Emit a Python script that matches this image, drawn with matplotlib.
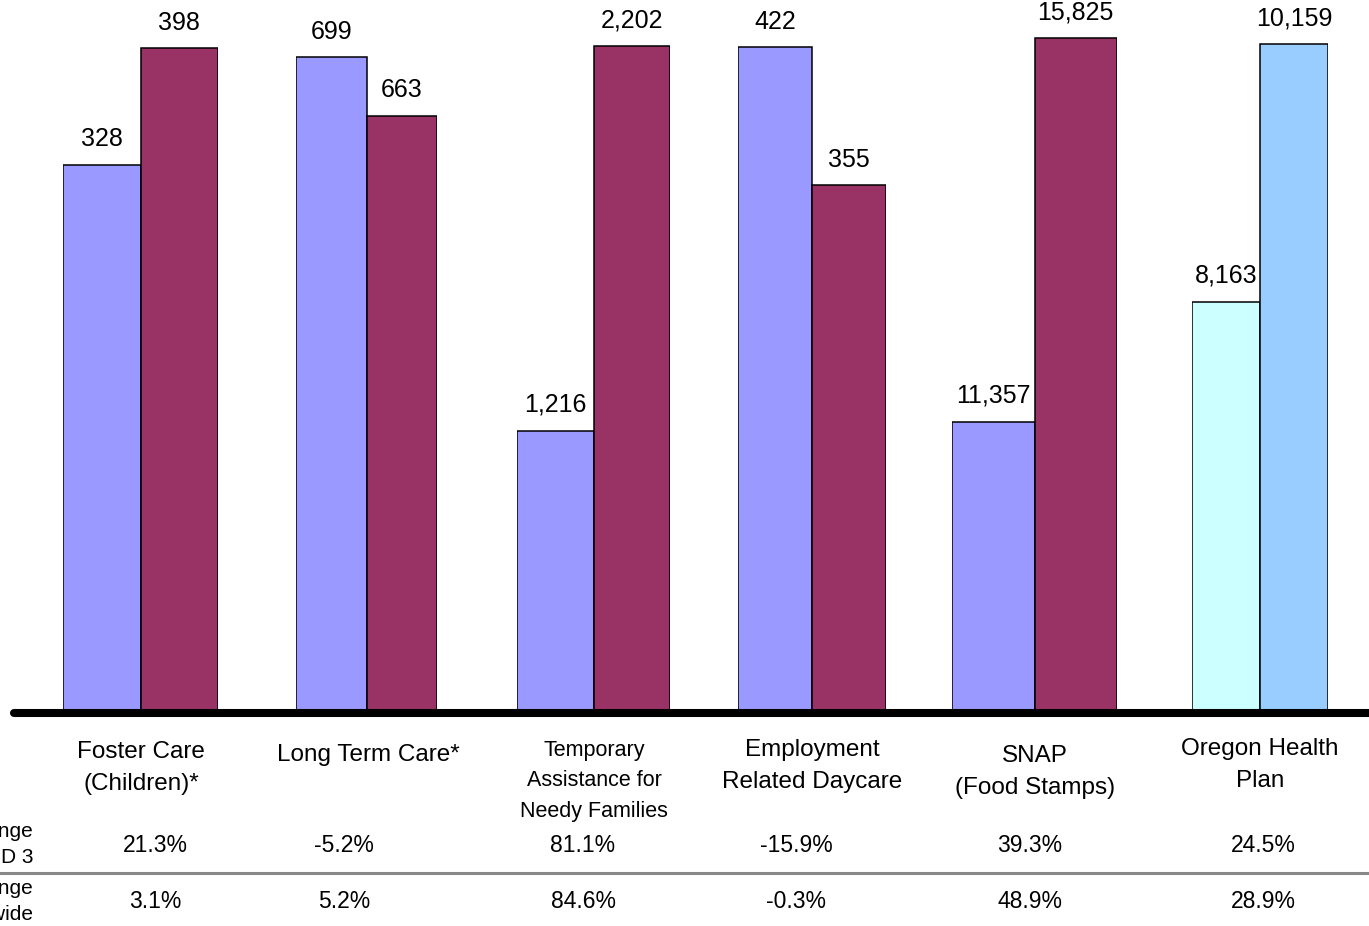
import matplotlib.pyplot as plt
from matplotlib.lines import Line2D

# data
programs = ["Foster Care\n(Children)*", "Long Term Care*",
            "Temporary\nAssistance for\nNeedy Families",
            "Employment\nRelated Daycare", "SNAP\n(Food Stamps)",
            "Oregon Health\nPlan"]
earlier = [328, 699, 1216, 422, 11357, 8163]
later = [398, 663, 2202, 355, 15825, 10159]
change_area = ["21.3%", "-5.2%", "81.1%", "-15.9%", "39.3%", "24.5%"]
change_state = ["3.1%", "5.2%", "84.6%", "-0.3%", "48.9%", "28.9%"]
row_labels = ["% Change\nCD 3", "% Change\nStatewide"]

# each program was its own little chart with its own value axis
y_min = [0, 300, 500, 100, 8000, 5000]
y_max = [427, 734, 2320, 445, 16267, 10500]
colors = [("#9999FF", "#993366")] * 5 + [("#CCFFFF", "#99CCFF")]

W, H = 1369, 926
fig = plt.figure(figsize=(W / 100, H / 100), dpi=100)
plt.rcParams["font.family"] = ["Liberation Sans", "DejaVu Sans"]

# pixel layout of the groups (left edge, right edge)
edges = [(63, 218), (296, 437), (517, 670), (738, 886), (952, 1117), (1192, 1328)]
base_px = 710

for i, (x0, x1) in enumerate(edges):
    ax = fig.add_axes([x0 / W, (H - base_px) / H, (x1 - x0) / W, base_px / H])
    vals = [earlier[i], later[i]]
    bars = ax.bar([0, 1], vals, width=1, align="edge", bottom=0,
                  color=colors[i], edgecolor="black", linewidth=1.1)
    ax.set_xlim(0, 2)
    ax.set_ylim(y_min[i], y_max[i])
    ax.axis("off")
    for b, v in zip(bars, vals):
        ax.annotate(f"{v:,}", (b.get_x() + b.get_width() / 2, v),
                    xytext=(0, 18.5), textcoords="offset points",
                    ha="center", va="center", fontsize=18, clip_on=False)

# thick baseline and the separator of the table
fig.add_artist(Line2D([14 / W, 1.0], [(H - 712.5) / H] * 2, color="black",
                      linewidth=5.8, solid_capstyle="round"))
fig.add_artist(Line2D([0, 1], [(H - 873) / H] * 2, color="#888888", linewidth=2.2))

# category labels
lab_x = [141, 368, 594, 812, 1035, 1260]
lab_y = [768, 755, 781, 766, 772, 765]
lab_fs = [17.5, 17.5, 15.5, 17.5, 17.5, 17.5]
for name, x, y, fs in zip(programs, lab_x, lab_y, lab_fs):
    fig.text(x / W, (H - y) / H, name, ha="center", va="center",
             fontsize=fs, linespacing=1.6)

# percent change rows
pct_x = [155, 344, 583, 796, 1030, 1263]
for row, y in zip([change_area, change_state], [845, 901]):
    for txt, x in zip(row, pct_x):
        fig.text(x / W, (H - y) / H, txt, ha="center", va="center", fontsize=16.5)

for txt, y in zip(row_labels, [844.5, 901.5]):
    fig.text(33 / W, (H - y) / H, txt, ha="right", va="center",
             fontsize=15, linespacing=1.45)

fig.savefig("out.png", dpi=100)
